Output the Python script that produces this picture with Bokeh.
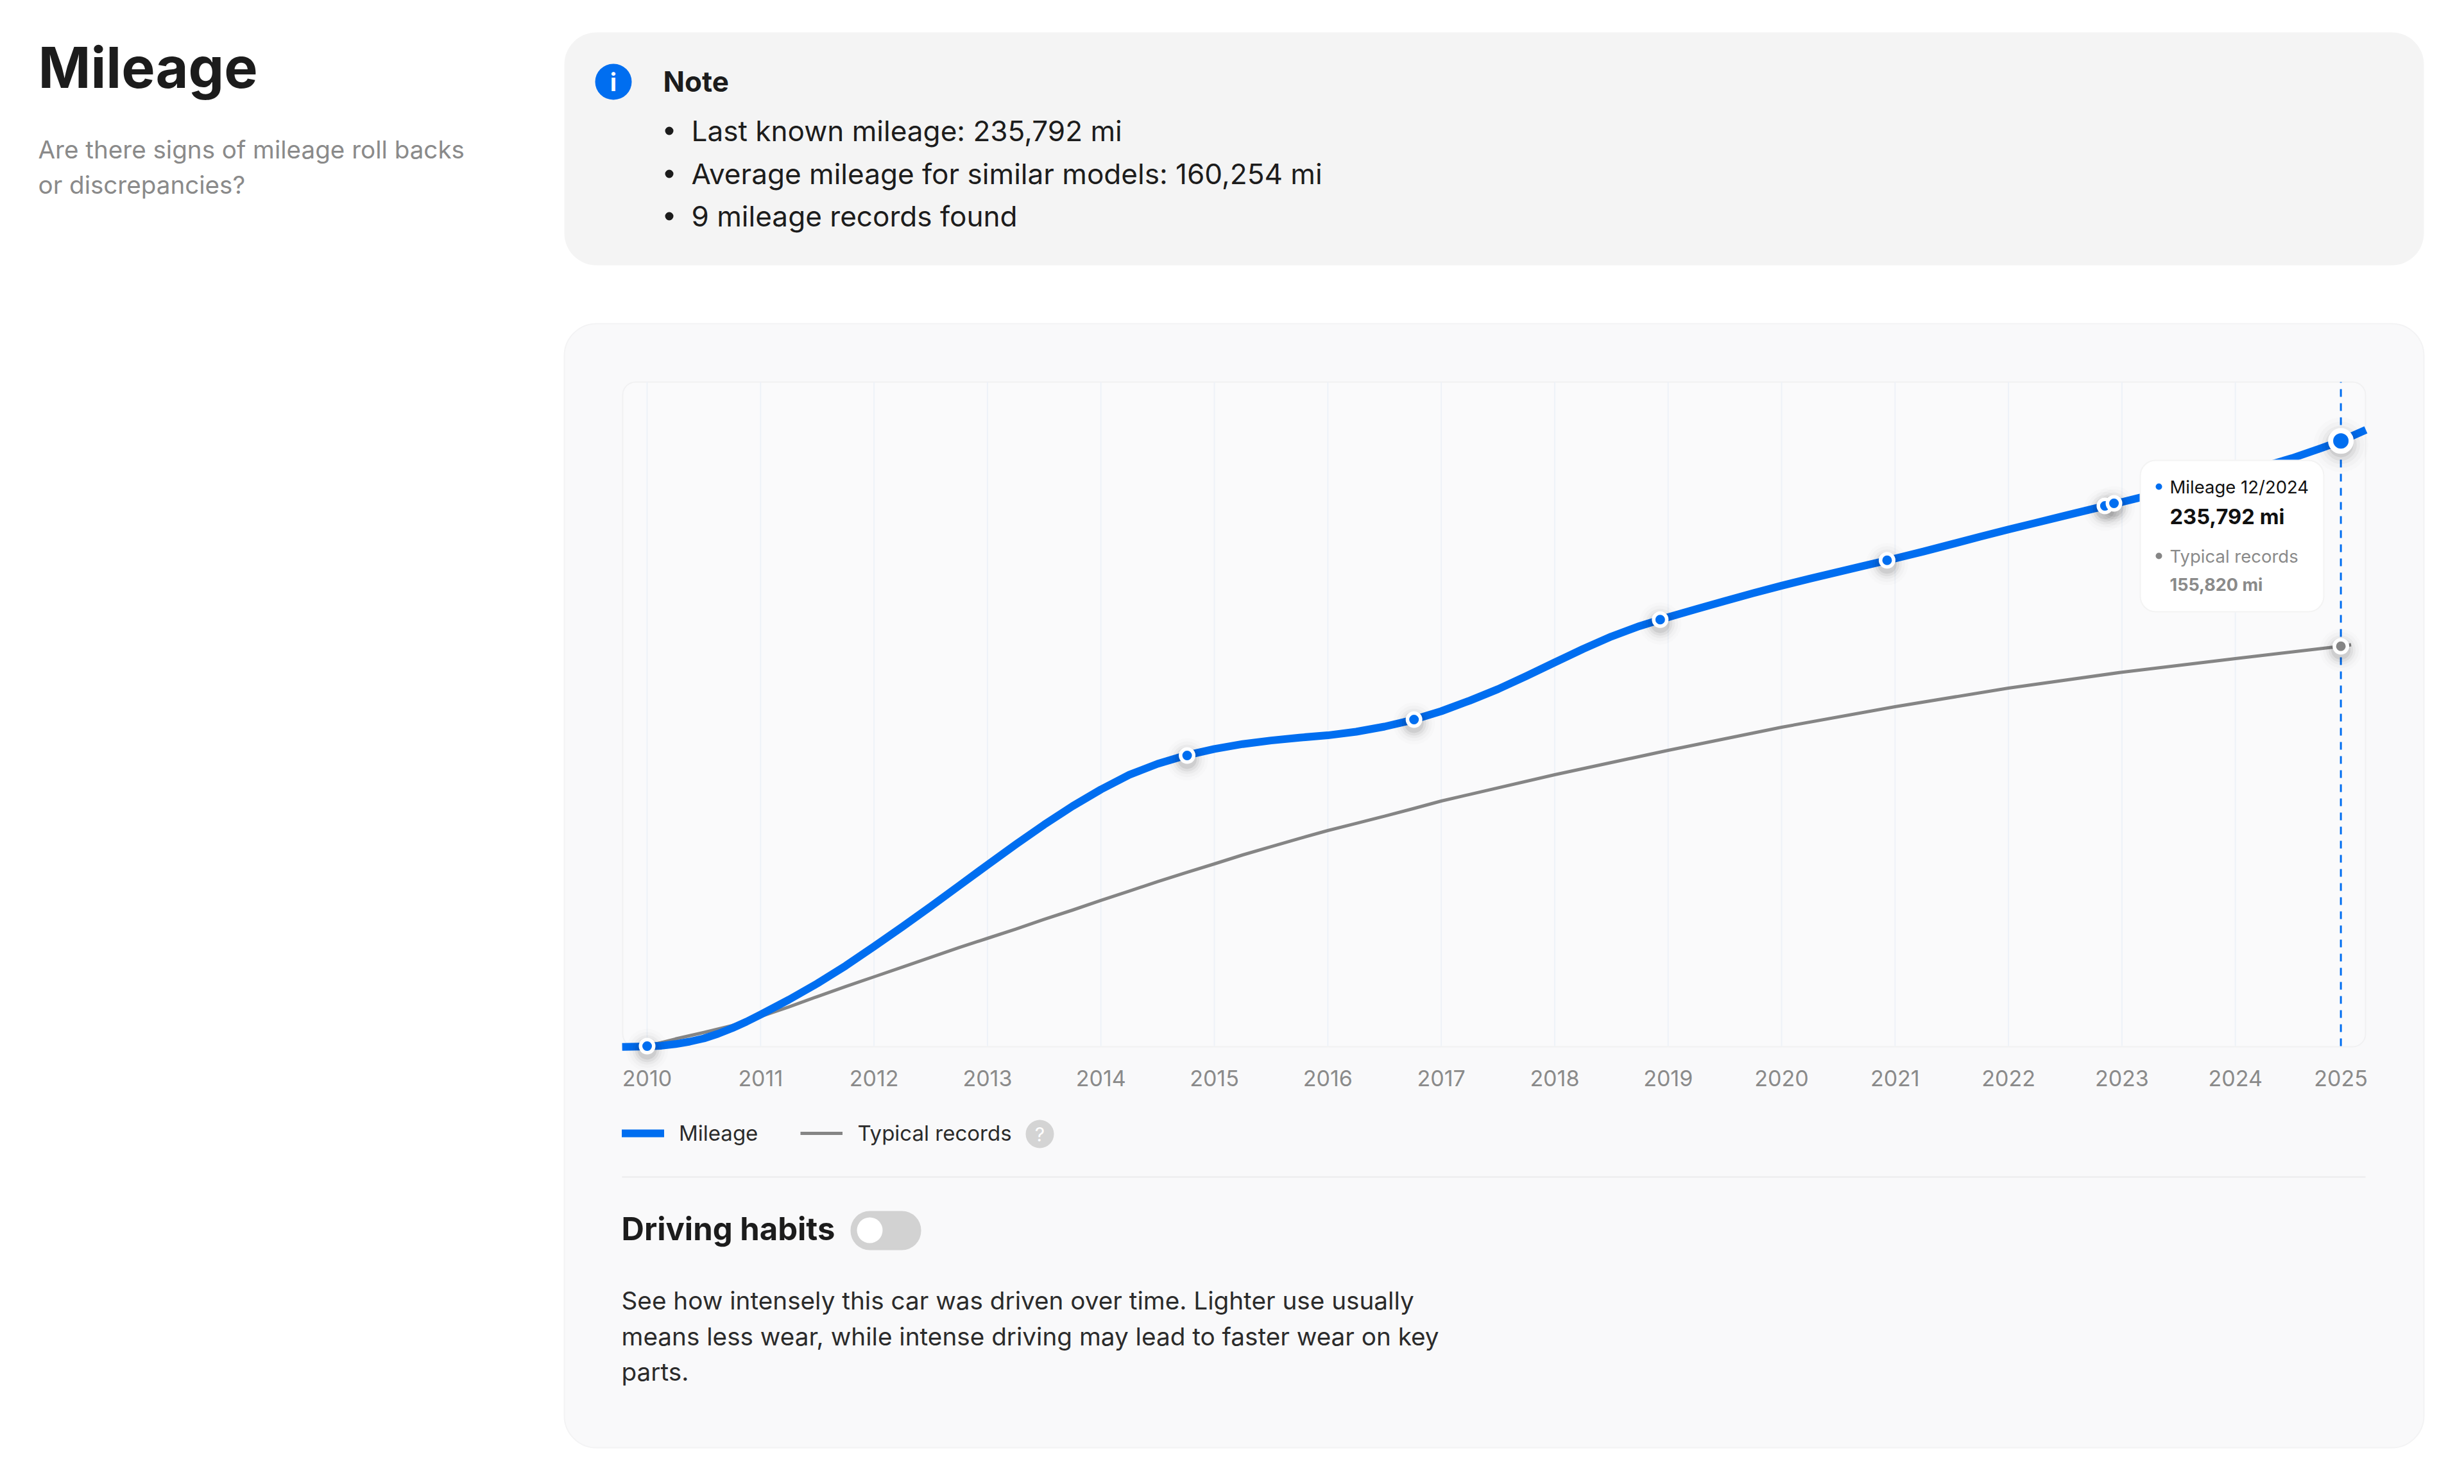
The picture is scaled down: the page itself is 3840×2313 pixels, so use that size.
from bokeh.embed import file_html
from bokeh.resources import INLINE
from bokeh.plotting import figure
from bokeh.models import (BoxAnnotation, Label, Legend, LegendItem, FixedTicker,
                          ColumnDataSource, Dodge, Range1d, LinearAxis)

mileage_years = [2009.78, 2010.0, 2010.125, 2010.25, 2010.375, 2010.5, 2010.625, 2010.75, 2010.875, 2011.0,
                 2011.25, 2011.5, 2011.75, 2012.0, 2012.25, 2012.5, 2012.75, 2013.0, 2013.25, 2013.5, 2013.75,
                 2014.0, 2014.25, 2014.5, 2014.75, 2015.0, 2015.25, 2015.5, 2015.75, 2016.0, 2016.25, 2016.5,
                 2016.75, 2017.0, 2017.25, 2017.5, 2017.75, 2018.0, 2018.25, 2018.5, 2018.75, 2019.0, 2019.25,
                 2019.5, 2019.75, 2020.0, 2020.25, 2020.5, 2020.75, 2021.0, 2021.25, 2021.5, 2021.75, 2022.0,
                 2022.25, 2022.5, 2022.75, 2023.0, 2023.25, 2023.5, 2023.75, 2024.0, 2024.25, 2024.5, 2024.75,
                 2024.93, 2025.15]
mileage_miles = [-300, -100, 150, 800, 1750, 3000, 4800, 7000, 9500, 12300,
                 18100, 24400, 31300, 38800, 46500, 54400, 62500, 70600, 78600, 86300, 93500,
                 100000, 105700, 110000, 113300, 115800, 117700, 119100, 120200, 121100, 122500, 124500,
                 127100, 130500, 134600, 139100, 144200, 149500, 154750, 159600, 163700, 167100, 170300,
                 173450, 176500, 179400, 182150, 184800, 187400, 190000, 192700, 195600, 198500, 201300,
                 204000, 206700, 209400, 212000, 214700, 217500, 220300, 223100, 225900, 229100, 232900,
                 235792, 240100]

typical_years = [2010.0, 2010.25, 2010.5, 2010.75, 2011.0, 2011.25, 2011.5, 2011.75, 2012.0, 2012.25, 2012.5,
                 2012.75, 2013.0, 2013.25, 2013.5, 2013.75, 2014.0, 2014.25, 2014.5, 2014.75, 2015.0, 2015.25,
                 2015.5, 2015.75, 2016.0, 2016.25, 2016.5, 2016.75, 2017.0, 2018.0, 2019.0, 2020.0, 2021.0,
                 2022.0, 2023.0, 2024.0, 2024.93, 2025.02]
typical_miles = [0, 2800, 5300, 8000, 11500, 15300, 19300, 23200, 27000, 30800, 34600,
                 38400, 42000, 45600, 49400, 53000, 56800, 60400, 64100, 67600, 71000, 74500,
                 77700, 80900, 84000, 86800, 89600, 92500, 95500, 105750, 115250, 124250, 132250,
                 139500, 145700, 151000, 155820, 156350]

record_years = [2010.0, 2014.76, 2016.76, 2018.93, 2020.93, 2022.85, 2022.93]
record_miles = [0, 113250, 127250, 166200, 189300, 210500, 211500]
latest_year = [2024.93]
latest_mileage = [235792]
latest_typical = [155820]

grid_years = [2010, 2011, 2012, 2013, 2014, 2015, 2016, 2017, 2018, 2019, 2020, 2021, 2022, 2023, 2024]
tick_positions = [2010, 2011, 2012, 2013, 2014, 2015, 2016, 2017, 2018, 2019, 2020, 2021, 2022, 2023, 2024, 2024.93]
tick_labels = ["2010", "2011", "2012", "2013", "2014", "2015", "2016", "2017", "2018", "2019", "2020", "2021",
               "2022", "2023", "2024", "2025"]

Y_TOP = 258750
BLUE = "#006EF0"
GREY = "#858585"
PAGE_W, PAGE_H = 3824, 2297
FONT = "Inter"
OFF = 0


def box(p, l, t, r, b, fill, radius=0, line=None, lw=0, level="image"):
    p.add_layout(BoxAnnotation(left=l - OFF, right=r - OFF, top=t - OFF, bottom=b - OFF,
                               left_units="canvas", right_units="canvas", top_units="canvas", bottom_units="canvas",
                               fill_color=fill, fill_alpha=1, line_color=line or fill, line_alpha=1 if line else 0,
                               line_width=lw, border_radius=radius, level=level, editable=False))


def text(p, s, x, y, size, color, bold=False, align="left", level="annotation"):
    p.add_layout(Label(x=x - OFF, y=y - OFF, x_units="canvas", y_units="canvas", text=s, text_font=FONT,
                       text_font_size=f"{size}px", text_color=color, text_align=align, text_baseline="middle",
                       text_font_style="bold" if bold else "normal", level=level))


p = figure(width=PAGE_W, height=PAGE_H, output_backend="svg", toolbar_location=None,
           x_range=Range1d(2004.2986, 2025.9276), y_range=Range1d(-166750, 407500),
           x_axis_location=None, y_axis_location=None,
           min_border=0, min_border_left=0, min_border_right=0, min_border_top=0, min_border_bottom=0,
           background_fill_color="#FFFFFF", border_fill_color="#FFFFFF", outline_line_color=None)
p.grid.visible = False
ax = LinearAxis(fixed_location=0, ticker=FixedTicker(ticks=tick_positions),
                major_label_overrides=dict(zip(tick_positions, tick_labels)),
                axis_line_color=None, major_tick_line_color=None, minor_tick_line_color=None,
                major_label_standoff=31, major_label_text_font=FONT, major_label_text_font_size="34px",
                major_label_text_color="#8A8A8A")
p.add_layout(ax, "below")

# page panels
box(p, 879, 50, 3777, 413, "#F4F4F4", 50)
box(p, 879, 504, 3777, 2256, "#F9F9FA", 50, "#F3F3F4", 2)
box(p, 970, 595, 3686, 1631, "#FAFAFB", 20, "#F1F1F2", 2)

# chart
p.segment(x0=grid_years, x1=grid_years, y0=[0] * len(grid_years), y1=[Y_TOP] * len(grid_years),
          line_color="#EEF2F8", line_width=2, level="underlay")
p.line(x=latest_year * 2, y=[0, Y_TOP], line_color=BLUE, line_width=3, line_dash=[12, 10])
typical_line = p.line(x=typical_years, y=typical_miles, line_color=GREY, line_width=5, line_join="round")
mileage_line = p.line(x=mileage_years, y=mileage_miles, line_color=BLUE, line_width=12, line_join="round")
mileage_key = p.line(x=latest_year, y=latest_mileage, line_color=BLUE, line_width=12, line_cap="round")

small = ColumnDataSource(dict(x=record_years + latest_year, y=record_miles + latest_typical))
big = ColumnDataSource(dict(x=latest_year, y=latest_mileage))
shift = {"field": "y", "transform": Dodge(value=-1500)}
for size, alpha in ((66, .012), (56, .02), (46, .03), (38, .05), (30, .07)):
    p.scatter(x="x", y=shift, source=small, size=size, fill_color="#000000", fill_alpha=alpha, line_color=None)
    p.scatter(x="x", y=shift, source=big, size=size * 1.3, fill_color="#000000", fill_alpha=alpha, line_color=None)
p.scatter(x=record_years, y=record_miles, size=20.5, fill_color=BLUE, line_color="#FFFFFF", line_width=5.5)
p.scatter(x=latest_year, y=latest_typical, size=20.5, fill_color=GREY, line_color="#FFFFFF", line_width=5.5)
p.scatter(x=latest_year, y=latest_mileage, size=32, fill_color=BLUE, line_color="#FFFFFF", line_width=8)

legend = Legend(items=[LegendItem(label="Mileage", renderers=[mileage_key]),
                       LegendItem(label="Typical records", renderers=[typical_line])],
                orientation="horizontal", location=(969, PAGE_H - 1786), padding=0, margin=0, spacing=66,
                label_standoff=23, glyph_width=66, glyph_height=40, label_height=40, label_text_font=FONT,
                label_text_font_size="33px", label_text_color="#2B2B2B", background_fill_alpha=0, border_line_alpha=0)
p.add_layout(legend, "center")
box(p, 1598, 1745, 1642, 1789, "#D4D4D4", 22, level="annotation")
text(p, "?", 1620, 1767, 30, "#FFFFFF", align="center")

# tooltip
box(p, 3335, 717, 3621, 953, "#FFFFFF", 24, "#F3F3F3", 2, level="overlay")
box(p, 3359, 753, 3369, 763, BLUE, 5, level="overlay")
box(p, 3359, 861, 3369, 871, GREY, 5, level="overlay")
text(p, "Mileage 12/2024", 3381, 758, 27.5, "#111111", level="overlay")
text(p, "235,792 mi", 3381, 804, 32.7, "#111111", bold=True, level="overlay")
text(p, "Typical records", 3381, 866, 27.5, "#8A8A8A", level="overlay")
text(p, "155,820 mi", 3381, 911, 27, "#8A8A8A", bold=True, level="overlay")

# left column
text(p, "Mileage", 59, 104, 88, "#1C1C1C", bold=True)
text(p, "Are there signs of mileage roll backs", 59, 232, 38.6, "#8A8A8A")
text(p, "or discrepancies?", 59, 287, 38.6, "#8A8A8A")

# note
box(p, 927, 99, 984, 155, BLUE, 28, level="annotation")
text(p, "i", 955.5, 127, 38, "#FFFFFF", bold=True, align="center")
text(p, "Note", 1033, 126, 44, "#1C1C1C", bold=True)
for s, yy in (("Last known mileage: 235,792 mi", 203), ("Average mileage for similar models: 160,254 mi", 270),
              ("9 mileage records found", 336)):
    box(p, 1036, yy - 6, 1049, yy + 7, "#1C1C1C", 7, level="annotation")
    text(p, s, 1077, yy, 44.1, "#1C1C1C")

# lower block
box(p, 969, 1833, 3686, 1835, "#EBEBEC", level="annotation")
text(p, "Driving habits", 968, 1915, 49, "#1C1C1C", bold=True)
box(p, 1325, 1887, 1435, 1948, "#D2D2D2", 30, level="annotation")
box(p, 1335, 1897, 1375, 1937, "#FFFFFF", 20, level="annotation")
text(p, "See how intensely this car was driven over time. Lighter use usually", 968, 2026, 38.7, "#2B2B2B")
text(p, "means less wear, while intense driving may lead to faster wear on key", 968, 2082, 38.7, "#2B2B2B")
text(p, "parts.", 968, 2137, 38.7, "#2B2B2B")

open("out.html", "w").write(file_html(p, INLINE))
